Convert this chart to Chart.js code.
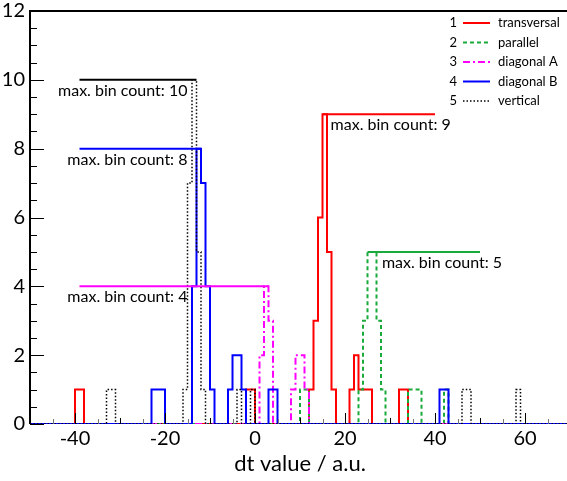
<!DOCTYPE html>
<html>
<head>
<meta charset="utf-8">
<script src="https://cdn.jsdelivr.net/npm/chart.js@4.4.1/dist/chart.umd.min.js"></script>
<style>
  html, body { margin: 0; padding: 0; background: #fff; overflow: hidden; }
  #wrap { position: relative; width: 570px; height: 481px; }
</style>
</head>
<body>
<div id="wrap"><canvas id="dtChart"></canvas></div>
<script>
// dt histograms, 1 a.u. wide bins on [-50, 70]
const binMin = -50;
const binMax = 70;
const xTickValues = [-40, -20, 0, 20, 40, 60];
const yTickValues = [0, 2, 4, 6, 8, 10, 12];

const seriesNames = ['transversal', 'parallel', 'diagonal A', 'diagonal B', 'vertical'];
const seriesColors = ['#ff0000', '#1aaa3c', '#ff00ff', '#0000ff', '#000000'];
const seriesDash = [[], [4, 3], [7, 3, 2, 3], [], [1.5, 2]];
const seriesWidth = [2, 2, 2, 2, 1.5];

// filled bins: lower edge + entries
const transversalBins = [-40, -39, -2, -1, 12, 13, 14, 15, 16, 17, 21, 22, 23, 24, 25, 32, 33];
const transversalCounts = [1, 1, 1, 1, 1, 3, 6, 9, 5, 1, 1, 2, 1, 1, 1, 1, 1];
const parallelBins = [10, 11, 23, 24, 25, 26, 27, 28, 34, 35, 36, 42];
const parallelCounts = [1, 1, 1, 3, 5, 5, 3, 1, 1, 1, 1, 1];
const diagonalABins = [1, 2, 3, 8, 9, 10, 11];
const diagonalACounts = [2, 4, 3, 1, 2, 2, 1];
const diagonalBBins = [-23, -22, -21, -14, -13, -12, -11, -10, -6, -5, -4, -3, 3, 4, 41, 42];
const diagonalBCounts = [1, 1, 1, 4, 8, 7, 4, 1, 1, 2, 2, 1, 1, 1, 1, 1];
const verticalBins = [-33, -32, -16, -15, -14, -13, -12, -4, -1, 46, 47, 58];
const verticalCounts = [1, 1, 1, 7, 10, 5, 1, 1, 1, 1, 1, 1];

// "max. bin count" marker lines and where their text sits
const peakLineFrom = [15, 25, -39, -39, -39];
const peakLineTo = [40, 50, 3, -12, -13];
const peakTextX = [16.8, 28.2, -15, -15, -15];
const peakTextAlign = ['left', 'left', 'right', 'right', 'right'];

const allBins = [transversalBins, parallelBins, diagonalABins, diagonalBBins, verticalBins];
const allCounts = [transversalCounts, parallelCounts, diagonalACounts, diagonalBCounts, verticalCounts];
const peakCounts = allCounts.map(c => Math.max(...c));

const FONT = 'Lato, "Open Sans", sans-serif';

function stepPoints(bins, counts) {
    const pts = [];
    for (let e = binMin; e < binMax; e++) {
        const i = bins.indexOf(e);
        pts.push({ x: e, y: i >= 0 ? counts[i] : 0 });
    }
    pts.push({ x: binMax, y: 0 });
    return pts;
}

const datasets = [];
seriesNames.forEach((name, i) => {
    datasets.push({
        label: name,
        data: stepPoints(allBins[i], allCounts[i]),
        stepped: 'before',
        borderColor: seriesColors[i],
        borderWidth: seriesWidth[i],
        borderDash: seriesDash[i],
        pointRadius: 0,
        fill: false,
        order: 10 - i
    });
});
seriesNames.forEach((name, i) => {
    datasets.push({
        label: 'peak ' + name,
        data: [{ x: peakLineFrom[i], y: peakCounts[i] }, { x: peakLineTo[i], y: peakCounts[i] }],
        borderColor: seriesColors[i],
        borderWidth: 2,
        pointRadius: 0,
        fill: false,
        order: 0
    });
});

// frame, inside ticks, peak texts and the numbered legend
const decorations = {
    id: 'decorations',
    afterDatasetsDraw(chart) {
        const ctx = chart.ctx;
        const { left, right, top, bottom } = chart.chartArea;
        const xs = chart.scales.x, ys = chart.scales.y;
        ctx.save();

        ctx.strokeStyle = '#000';
        ctx.lineWidth = 2;
        ctx.beginPath();
        ctx.moveTo(left, bottom);
        ctx.lineTo(left, top);
        ctx.lineTo(right, top);
        ctx.stroke();

        ctx.lineWidth = 1;
        for (let v = -45; v <= binMax; v += 5) {
            const px = Math.round(xs.getPixelForValue(v)) + 0.5;
            let len = 5;
            ctx.strokeStyle = '#777';
            if (v % 20 === 0) { len = 11; ctx.strokeStyle = '#000'; }
            else if (v % 10 === 0) { len = 6; ctx.strokeStyle = '#000'; }
            ctx.beginPath();
            ctx.moveTo(px, bottom);
            ctx.lineTo(px, bottom - len);
            ctx.stroke();
        }
        ctx.strokeStyle = '#000';
        for (let v = 0; v <= 12; v += 0.5) {
            const py = Math.round(ys.getPixelForValue(v)) + 0.5;
            const len = (v % 2 === 0) ? 14 : 7;
            ctx.beginPath();
            ctx.moveTo(left, py);
            ctx.lineTo(left + len, py);
            ctx.stroke();
        }

        ctx.fillStyle = '#000';
        ctx.font = '16px ' + FONT;
        ctx.textBaseline = 'top';
        seriesNames.forEach((n, i) => {
            ctx.textAlign = peakTextAlign[i];
            ctx.fillText('max. bin count: ' + peakCounts[i],
                xs.getPixelForValue(peakTextX[i]), ys.getPixelForValue(peakCounts[i]) + 3);
        });

        const rowY = [23, 42.5, 62, 81.5, 101];
        ctx.font = '13px ' + FONT;
        ctx.textBaseline = 'middle';
        seriesNames.forEach((n, i) => {
            ctx.fillStyle = '#000';
            ctx.textAlign = 'right';
            ctx.fillText(String(i + 1), 457, rowY[i]);
            ctx.textAlign = 'left';
            ctx.fillText(n, 498, rowY[i]);
            ctx.strokeStyle = seriesColors[i];
            ctx.lineWidth = seriesWidth[i];
            ctx.setLineDash(seriesDash[i]);
            ctx.beginPath();
            ctx.moveTo(463, rowY[i]);
            ctx.lineTo(490, rowY[i]);
            ctx.stroke();
            ctx.setLineDash([]);
        });
        ctx.restore();
    }
};

new Chart(document.getElementById('dtChart'), {
    type: 'line',
    data: { datasets },
    options: {
        responsive: true,
        maintainAspectRatio: false,
        animation: false,
        events: [],
        layout: { padding: { top: 11, right: 0, left: 0, bottom: 0 } },
        plugins: { legend: { display: false }, tooltip: { enabled: false } },
        scales: {
            x: {
                type: 'linear',
                min: binMin,
                max: binMax,
                grid: { display: false, drawTicks: false },
                border: { display: false },
                afterFit: s => { s.height = 57; s.paddingLeft = 0; s.paddingRight = 0; },
                afterBuildTicks: s => { s.ticks = xTickValues.map(v => ({ value: v })); },
                ticks: { color: '#000', padding: 5, maxRotation: 0, font: { family: FONT, size: 20, lineHeight: 1 } },
                title: { display: true, text: 'dt value / a.u.', color: '#000', padding: { top: 2, bottom: 4 }, font: { family: FONT, size: 22 } }
            },
            y: {
                min: 0,
                max: 12,
                grid: { display: false, drawTicks: false },
                border: { display: false },
                afterFit: s => { s.width = 30; s.paddingTop = 0; s.paddingBottom = 0; },
                afterBuildTicks: s => { s.ticks = yTickValues.map(v => ({ value: v })); },
                ticks: { color: '#000', padding: 5, font: { family: FONT, size: 20, lineHeight: 1 } }
            }
        }
    },
    plugins: [decorations]
});
</script>
</body>
</html>
